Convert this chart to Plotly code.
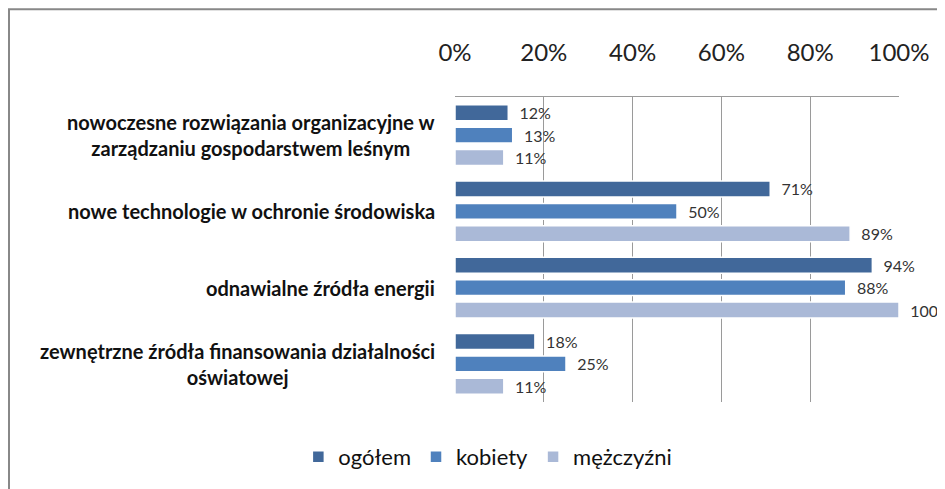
import plotly.graph_objects as go

categories = [
    "nowoczesne rozwiązania organizacyjne w<br>zarządzaniu gospodarstwem leśnym",
    "nowe technologie w ochronie środowiska",
    "odnawialne źródła energii",
    "zewnętrzne źródła finansowania działalności<br>oświatowej",
]
series_names = ["ogółem", "kobiety", "mężczyźni"]
ogolem = [12, 71, 94, 18]
kobiety = [13, 50, 88, 25]
mezczyzni = [11, 89, 100, 11]
tick_values = [0, 20, 40, 60, 80, 100]
tick_labels = ["0%", "20%", "40%", "60%", "80%", "100%"]

colors = ["#41689A", "#4F81BD", "#AAB9D7"]
values = [ogolem, kobiety, mezczyzni]

fig = go.Figure()
for name, vals, col in zip(series_names, values, colors):
    fig.add_trace(go.Bar(
        y=categories, x=vals, name=name, orientation="h",
        marker=dict(color=col, line=dict(color="white", width=1.5)),
        text=["\u00a0\u00a0" + f"{v}%" for v in vals],
        textposition="outside", cliponaxis=False, constraintext="none",
        textfont=dict(family="Lato", size=16, color="#333333"),
    ))

for cat in categories:
    fig.add_annotation(
        x=0, xref="paper", xanchor="right", xshift=-18,
        y=cat, yref="y", text=cat, showarrow=False, align="center",
        font=dict(family="Lato", size=20, color="#111111", weight=700),
    )

fig.add_shape(type="rect", xref="paper", yref="paper",
              x0=-1.0045, x1=1.2, y0=-0.4, y1=1.2876,
              line=dict(color="#888888", width=2), fillcolor="rgba(0,0,0,0)",
              layer="below")

fig.update_layout(
    width=937, height=481,
    margin=dict(l=447, r=46, t=89, b=86),
    paper_bgcolor="white", plot_bgcolor="white",
    barmode="group", bargap=0.118, bargroupgap=0.29,
    showlegend=True,
    legend=dict(orientation="h", x=0.074, xanchor="center", y=-0.176, yanchor="middle",
                font=dict(family="Lato", size=22, color="#111111"),
                itemwidth=30, traceorder="normal"),
    xaxis=dict(side="top", range=[0, 100], tickvals=tick_values, ticktext=tick_labels,
               showgrid=True, gridcolor="#9a9a9a", gridwidth=1,
               showline=True, linecolor="#9a9a9a", linewidth=1,
               zeroline=False, ticks="", ticklabelstandoff=25,
               tickfont=dict(family="Lato", size=24, color="#222222")),
    yaxis=dict(autorange="reversed", showticklabels=False, showgrid=False,
               showline=False, zeroline=False, ticks=""),
)

fig.write_html("out.html")
